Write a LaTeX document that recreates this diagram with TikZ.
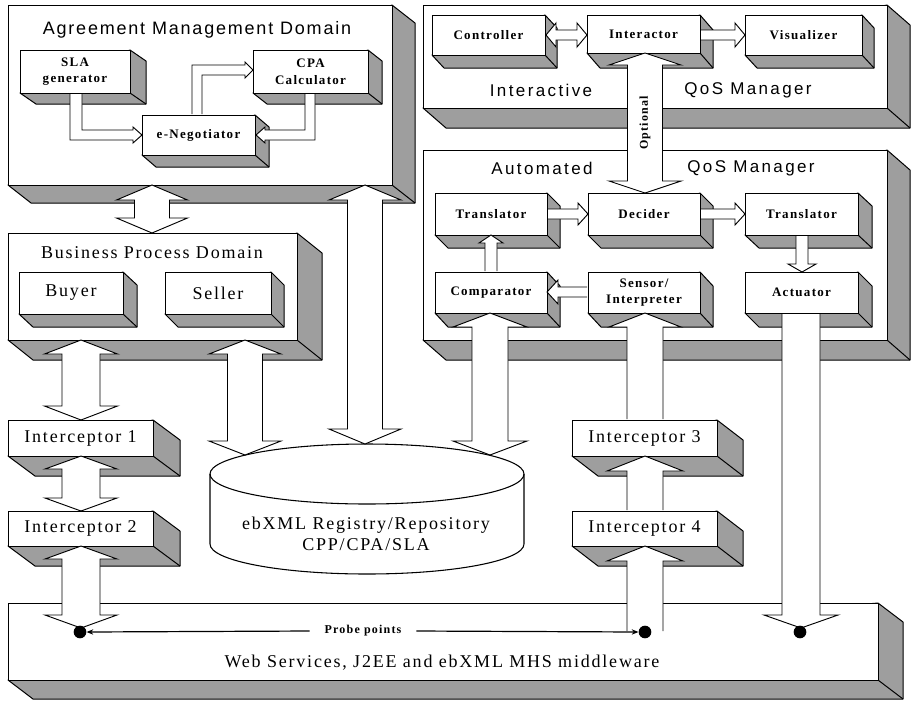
\documentclass[tikz,border=0pt]{standalone}
\usepackage{fontspec}
\setmainfont{Liberation Serif}[LetterSpace=10]
\newfontfamily\titlesans{Liberation Sans}[LetterSpace=14]
\newfontfamily\titlesansA{Liberation Sans}[LetterSpace=10]
\usetikzlibrary{arrows.meta}
\definecolor{shadegray}{gray}{0.62}
\tikzset{
  front/.style={draw, fill=white, line width=0.75pt, inner sep=0pt, align=center},
  sidefill/.style={fill=shadegray, draw, line width=0.75pt, line join=round},
  blockarrow/.style={draw, fill=white, line width=0.7pt, line join=miter},
  small/.style={font=\fontsize{9.75}{12.5}\selectfont\bfseries},
  big/.style={font=\fontsize{13.5}{16}\selectfont},
  titleA/.style={font=\titlesansA\fontsize{13.5}{15}\selectfont},
  titleB/.style={font=\titlesans\fontsize{12.75}{14}\selectfont},
  dot/.style={circle, fill=black, inner sep=0pt, minimum size=9.5pt},
  probe/.style={font=\fontsize{9}{10}\selectfont\bfseries, inner xsep=11pt},
  probeline/.style={line width=0.9pt, -{Stealth[length=5pt,width=4pt]}},
}
% #1 style, #2 name, #3 x1, #4 y1, #5 x2, #6 y2, #7 dx, #8 dy, #9 text
\newcommand\slab[9][]{%
  \filldraw[sidefill] (#5,#4) -- ++(#7,#8) -- ({#5+#7},{#6+#8}) -- ({#3+#7},{#6+#8}) -- (#3,#6) -- cycle;
  \draw[line width=0.75pt] (#5,#6) -- ++(#7,#8);
  \node[front,#1, minimum width={(#5-#3)*0.75pt}, minimum height={(#6-#4)*0.75pt}] (#2) at ({(#3+#5)/2},{(#4+#6)/2}) {#9};}
% vertical double arrow: x, tip1, tip2, half shaft, half head, head length
\newcommand\vdbl[6]{\filldraw[blockarrow] (#1,#2) -- ({#1+#5},{#2+#6}) -- ({#1+#4},{#2+#6}) -- ({#1+#4},{#3-#6}) -- ({#1+#5},{#3-#6}) -- (#1,#3) -- ({#1-#5},{#3-#6}) -- ({#1-#4},{#3-#6}) -- ({#1-#4},{#2+#6}) -- ({#1-#5},{#2+#6}) -- cycle;}
% vertical single arrow: x, tail, tip, half shaft, half head, signed head length
\newcommand\vsgl[6]{\filldraw[blockarrow] ({#1-#4},#2) -- ({#1-#4},{#3-(#6)}) -- ({#1-#5},{#3-(#6)}) -- (#1,#3) -- ({#1+#5},{#3-(#6)}) -- ({#1+#4},{#3-(#6)}) -- ({#1+#4},#2);}
% horizontal double arrow: y, tip1, tip2, half shaft, half head, head length
\newcommand\hdbl[6]{\filldraw[blockarrow] (#2,#1) -- ({#2+#6},{#1-#5}) -- ({#2+#6},{#1-#4}) -- ({#3-#6},{#1-#4}) -- ({#3-#6},{#1-#5}) -- (#3,#1) -- ({#3-#6},{#1+#5}) -- ({#3-#6},{#1+#4}) -- ({#2+#6},{#1+#4}) -- ({#2+#6},{#1+#5}) -- cycle;}
% horizontal single arrow: y, tail, tip, half shaft, half head, signed head length
\newcommand\hsgl[6]{\filldraw[blockarrow] (#2,{#1-#4}) -- ({#3-(#6)},{#1-#4}) -- ({#3-(#6)},{#1-#5}) -- (#3,#1) -- ({#3-(#6)},{#1+#5}) -- ({#3-(#6)},{#1+#4}) -- (#2,{#1+#4});}
\begin{document}
\begin{tikzpicture}[x=0.75pt,y=-0.75pt]
\useasboundingbox (0,0) rectangle (912,700);
% ---------- large frames ----------
\slab{amd}{8}{5}{392}{185}{23}{18}{}
\slab{iqm}{423}{5}{887}{108}{23}{20}{}
\slab{aqm}{423}{150}{887}{340}{23}{20}{}
\slab{bpd}{8}{233}{297}{340}{25}{20}{}
\slab[big]{int1}{8}{420}{153}{456}{27}{20}{Interceptor 1}
\slab[big]{int2}{8}{511}{153}{546}{27}{20}{Interceptor 2}
\slab[big]{int3}{572}{420}{717}{456}{26}{20}{Interceptor 3}
\slab[big]{int4}{572}{511}{717}{546}{26}{20}{Interceptor 4}
\slab{mw}{8}{603}{878}{680}{25}{19}{}
% ---------- titles ----------
\node[titleA] (amdt) at (197,30) {Agreement Management Domain};
\node[big] (bpdt) at (152,253) {Business Process Domain};
\node[titleB] (iqmt1) at (541,90) {Interactive};
\node[titleB] (iqmt2) at (748,90) {QoS Manager};
\node[titleB] (aqmt1) at (542,168) {Automated};
\node[titleB] (aqmt2) at (751,168) {QoS Manager};
\node[big] (mwt) at (442,663) {Web Services, J2EE and ebXML MHS middleware};
% ---------- inner boxes ----------
\slab[small]{sla}{20}{50}{130}{93}{16}{11}{SLA\\generator}
\slab[small]{cpa}{253}{50}{368}{93}{14}{11}{CPA\\Calculator}
\slab[small]{eneg}{142}{115}{255}{155}{14}{12}{e-Negotiator}
\slab[big]{buyer}{19}{272}{123}{314}{14}{13}{Buyer}
\slab[big]{seller}{165}{272}{271}{314}{13}{13}{Seller}
\slab[small]{ctrl}{432}{15}{545}{55}{12}{13}{Controller}
\slab[small]{inter}{587}{15}{700}{53}{13}{15}{Interactor}
\slab[small]{vis}{745}{15}{862}{55}{12}{13}{Visualizer}
\slab[small]{trl}{435}{193}{547}{235}{13}{13}{Translator}
\slab[small]{dec}{588}{193}{700}{235}{13}{13}{Decider}
\slab[small]{trr}{745}{193}{858}{235}{14}{13}{Translator}
\slab[small]{comp}{435}{272}{547}{313}{13}{14}{Comparator}
\slab[small]{sens}{588}{272}{700}{313}{13}{14}{Sensor/\\Interpreter}
\slab[small]{act}{745}{272}{858}{313}{14}{14}{Actuator}
% ---------- repository cylinder ----------
\filldraw[fill=white, line width=0.8pt] (210,474) -- (210,544)
  arc[start angle=180, end angle=0, x radius=157, y radius=30] -- (524,474)
  arc[start angle=0, end angle=-180, x radius=157, y radius=30] -- cycle;
\draw[line width=0.8pt] (210,474) arc[start angle=180, end angle=0, x radius=157, y radius=30];
\node[big, align=center] (repo) at (366,534) {ebXML Registry/Repository\\CPP/CPA/SLA};
% ---------- arrows in agreement domain ----------
\filldraw[blockarrow] (70,94) -- (70,140) -- (133,140) -- (133,143) -- (142,135) -- (133,127) -- (133,130) -- (82,130) -- (82,94);
\filldraw[blockarrow] (192,114) -- (192,65) -- (245,65) -- (245,62) -- (253,70) -- (245,78) -- (245,75) -- (202,75) -- (202,114);
\filldraw[blockarrow] (315,94) -- (315,140) -- (265,140) -- (265,143) -- (256,135) -- (265,127) -- (265,130) -- (305,130) -- (305,94);
% ---------- QoS manager arrows ----------
\hdbl{35}{546}{587}{5}{12}{10}
\hsgl{35}{701}{745}{5}{12}{10}
\hsgl{214}{548}{588}{5}{11}{10}
\hsgl{214}{701}{745}{5}{11}{10}
\vsgl{802}{236}{272}{6}{14}{8}
\vsgl{491}{271}{235}{6}{12}{-8}
\hsgl{292}{587}{547}{5}{12}{-11}
% ---------- big vertical arrows ----------
\vdbl{152}{185}{233}{17.5}{35.5}{15}
\vdbl{365}{185}{444}{17.5}{36}{15}
\vdbl{81}{340}{420}{19}{36.5}{14}
\vdbl{245}{340}{455}{17.5}{36}{14}
\vdbl{81}{456}{511}{19}{36}{13}
\vdbl{81}{546}{628}{19}{36}{13}
\vdbl{490}{313}{455}{18}{37}{14}
\vdbl{645}{53}{193}{17.5}{36}{12}
\vsgl{645}{419}{313}{18}{36}{-14}
\vsgl{645}{510}{456}{18}{38}{-15}
\vsgl{645}{631}{546}{18}{38}{-15}
\vsgl{801}{314}{628}{19}{37}{13}
\node[font=\fontsize{9}{10}\selectfont\bfseries, rotate=90] (opt) at (645,123) {Optional};
% ---------- probe points ----------
\node[dot] (p1) at (80,632) {};
\node[dot] (p2) at (645,632) {};
\node[dot] (p3) at (800,632) {};
\node[probe] (probe) at (363,631) {Probe points};
\draw[probeline] (probe.west) -- (p1.east);
\draw[probeline] (probe.east) -- (p2.west);
\end{tikzpicture}
\end{document}
